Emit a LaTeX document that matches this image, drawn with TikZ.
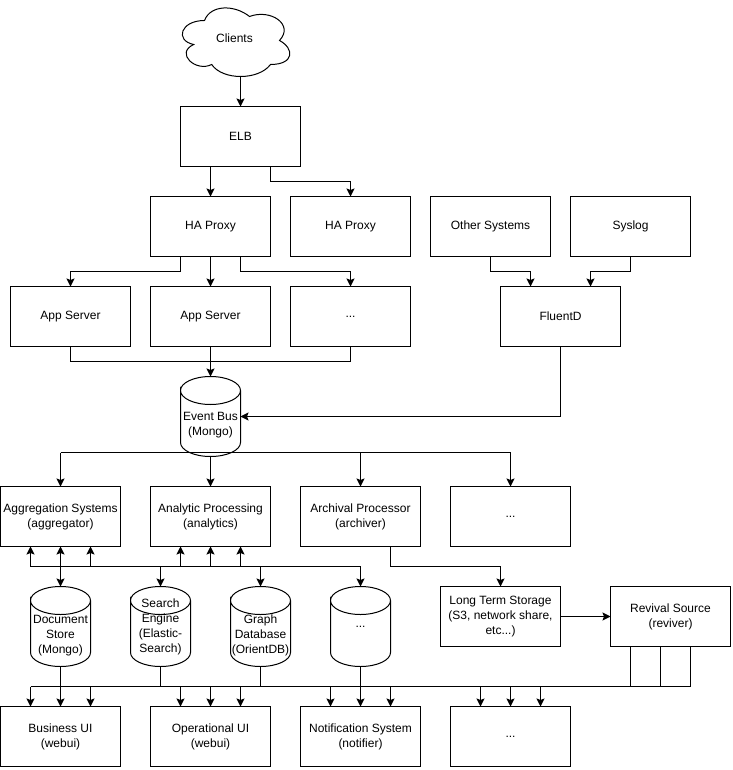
\documentclass[tikz,border=0pt]{standalone}
\usepackage{fontspec}
\setmainfont{Liberation Sans}
\usetikzlibrary{arrows.meta}

\tikzset{
  wire/.style={line width=1pt},
  link/.style={line width=1pt,-{Stealth[length=8pt,width=8pt,inset=1.5pt]}},
  duplex/.style={line width=1pt,{Stealth[length=8pt,width=8pt,inset=1.5pt]}-{Stealth[length=8pt,width=8pt,inset=1.5pt]}},
  box/.style={draw,line width=1pt,minimum width=120pt,minimum height=60pt,inner sep=0pt,outer sep=0pt,align=center},
  store/.style={minimum width=60pt,minimum height=80pt,inner sep=0pt,outer sep=0pt,align=center,
    append after command={\pgfextra{
      \draw[wire] ([yshift=26pt]\tikzlastnode.west) arc[start angle=180,end angle=-180,x radius=30pt,y radius=14pt]
        -- ++(0,52) arc[start angle=180,end angle=360,x radius=30pt,y radius=14pt] -- ++(0,-52);
    }}}
}

\begin{document}
\begin{tikzpicture}[x=1pt,y=-1pt,font=\fontsize{12}{15}\selectfont]
\useasboundingbox (0,0) rectangle (732,770);
\begin{scope}[shift={(0.5,0.5)}]
% cloud
\begin{scope}[shift={(174,0)},x=1.2pt,y=-0.8pt]
\draw[wire] (25,25) .. controls (5,25) and (0,50) .. (16,55)
  .. controls (0,66) and (18,90) .. (31,80)
  .. controls (40,100) and (70,100) .. (80,80)
  .. controls (100,80) and (100,60) .. (87.5,50)
  .. controls (100,30) and (80,10) .. (62.5,20)
  .. controls (50,5) and (30,5) .. (25,25) -- cycle;
\end{scope}
\node (clients) at (234,38) {Clients};
\coordinate (cloudfoot) at (240,76);

% upper boxes
\node[box] (elb) at (240,136) {ELB};
\node[box] (haone) at (210,226) {HA Proxy};
\node[box] (hatwo) at (350,226) {HA Proxy};
\node[box] (othersys) at (490,226) {Other Systems};
\node[box] (syslog) at (630,226) {Syslog};
\node[box] (appone) at (70,316) {App Server};
\node[box] (apptwo) at (210,316) {App Server};
\node[box] (appmore) at (350,316) {...};
\node[box] (fluentd) at (560,316) {FluentD};
\node[store] (eventbus) at (210,416) {\strut\\Event Bus\\(Mongo)};

% processors
\node[box] (aggregator) at (60,516) {Aggregation Systems\\(aggregator)};
\node[box] (analytics) at (210,516) {Analytic Processing\\(analytics)};
\node[box] (archiver) at (360,516) {Archival Processor\\(archiver)};
\node[box] (procmore) at (510,516) {...};

% stores
\node[store] (docstore) at (60,626) {\strut\\Document\\Store\\(Mongo)};
\node[store] (search) at (160,626) {Search\\Engine\\(Elastic-\\Search)};
\node[store] (graphdb) at (260,626) {\strut\\Graph\\Database\\(OrientDB)};
\node[store] (storemore) at (360,626) {...};
\node[box] (longterm) at (500,616) {Long Term Storage\\(S3, network share,\\etc...)};
\node[box] (reviver) at (670,616) {Revival Source\\(reviver)};

% user interfaces
\node[box] (bizui) at (60,736) {Business UI\\(webui)};
\node[box] (opsui) at (210,736) {Operational UI\\(webui)};
\node[box] (notifier) at (360,736) {Notification System\\(notifier)};
\node[box] (uimore) at (510,736) {...};

% bus lines
\coordinate (evbus) at (60,452);
\coordinate (readbus) at (30,566);
\coordinate (uibus) at (30,686);
\coordinate (uibusend) at (690,686);

% top part
\draw[link] (cloudfoot) -- (elb.north);
\draw[link] ([xshift=-30pt]elb.south) -- (haone.north);
\draw[link] ([xshift=30pt]elb.south) |- (270,181) -| (hatwo.north);
\draw[link] ([xshift=-30pt]haone.south) |- (180,271) -| (appone.north);
\draw[link] (haone.south) -- (apptwo.north);
\draw[link] ([xshift=30pt]haone.south) |- (240,271) -| (appmore.north);
\draw[link] (othersys.south) |- (490,271) -| ([xshift=-30pt]fluentd.north);
\draw[link] (syslog.south) |- (630,271) -| ([xshift=30pt]fluentd.north);
\draw[wire] (appone.south) |- (210,361) -| (appmore.south);
\draw[link] (apptwo.south) -- (eventbus.north);
\draw[link] (fluentd.south) |- (eventbus.east);

% event bus to processors
\draw[wire] (evbus) -- (procmore.north |- evbus);
\draw[link] (evbus) -- (aggregator.north);
\draw[link] (eventbus.south) -- (analytics.north);
\draw[link] (archiver.north |- evbus) -- (archiver.north);
\draw[link] (procmore.north |- evbus) -- (procmore.north);

% processors to stores
\draw[wire] (readbus) -- (storemore.north |- readbus);
\foreach \dx in {-30,30} {
  \draw[link] ([xshift=\dx pt]aggregator.south |- readbus) -- ([xshift=\dx pt]aggregator.south);
}
\foreach \dx in {-30,0,30} {
  \draw[link] ([xshift=\dx pt]analytics.south |- readbus) -- ([xshift=\dx pt]analytics.south);
}
\draw[duplex] (aggregator.south) -- (docstore.north);
\draw[link] (search.north |- readbus) -- (search.north);
\draw[link] (graphdb.north |- readbus) -- (graphdb.north);
\draw[link] (storemore.north |- readbus) -- (storemore.north);
\draw[link] ([xshift=30pt]archiver.south) |- (390,566) -| (longterm.north);
\draw[link] (longterm.east) -- (reviver.west);

% stores to user interfaces
\draw[wire] (uibus) -- (uibusend);
\draw[wire] (docstore.south) -- (docstore.south |- uibus);
\draw[wire] (search.south) -- (search.south |- uibus);
\draw[wire] (graphdb.south) -- (graphdb.south |- uibus);
\draw[wire] (storemore.south) -- (storemore.south |- uibus);
\foreach \dx in {-40,-10,20} {
  \draw[wire] ([xshift=\dx pt]reviver.south) -- ([xshift=\dx pt]reviver.south |- uibus);
}
\foreach \target in {bizui,opsui,notifier,uimore} {
  \foreach \dx in {-30,0,30} {
    \draw[link] ([xshift=\dx pt]\target.north |- uibus) -- ([xshift=\dx pt]\target.north);
  }
}
\end{scope}
\end{tikzpicture}
\end{document}
